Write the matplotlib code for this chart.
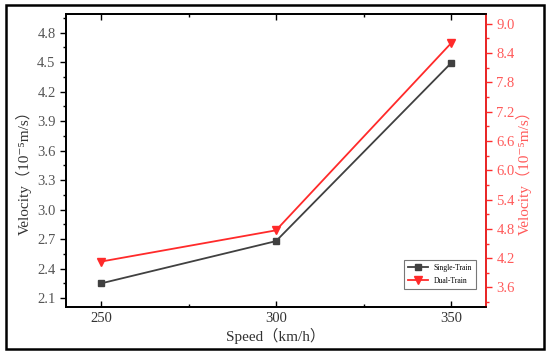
import matplotlib
matplotlib.use('Agg')
import matplotlib.pyplot as plt
from matplotlib.patches import Rectangle
from matplotlib.ticker import MultipleLocator

# 数据
speed = [250, 300, 350]
single_train = [2.25, 2.68, 4.49]
dual_train = [4.13, 4.77, 8.60]

fonts = ['Liberation Serif', 'DejaVu Serif', 'Noto Sans CJK SC']
plt.rcParams['font.family'] = fonts

gray = '#404040'
red = '#ff2a2a'
red_txt = '#ff5a5a'

fig = plt.figure(figsize=(5.5, 3.55), dpi=100)
ax = fig.add_axes([66/550, 1-307/355, 420/550, 293/355])
ax2 = ax.twinx()

l1, = ax.plot(speed, single_train, color=gray, marker='s', markersize=4.5, lw=1.3, label='Single-Train')
l2, = ax2.plot(speed, dual_train, color=red, marker='v', markersize=5.5, lw=1.3, label='Dual-Train')

ax.set_xlim(240, 360)
ax.set_ylim(2.01, 4.99)
ax2.set_ylim(3.2, 9.2)

ax.xaxis.set_major_locator(MultipleLocator(50))
ax.xaxis.set_minor_locator(MultipleLocator(25))
ax.yaxis.set_major_locator(MultipleLocator(0.3))
ax.yaxis.set_minor_locator(MultipleLocator(0.15))
ax2.yaxis.set_major_locator(MultipleLocator(0.6))
ax2.yaxis.set_minor_locator(MultipleLocator(0.3))
ax.yaxis.set_major_formatter(plt.FuncFormatter(lambda v, p: '%.1f' % v))
ax2.yaxis.set_major_formatter(plt.FuncFormatter(lambda v, p: '%.1f' % v))

ax.tick_params(axis='x', which='both', direction='in', top=True, labelsize=10.5, labelcolor='#333333')
ax.tick_params(axis='x', which='major', length=4, width=1)
ax.tick_params(axis='x', which='minor', length=2.5, width=1)
ax.tick_params(axis='y', which='major', direction='out', length=4, width=1, labelsize=10.5, labelcolor='#555555')
ax.tick_params(axis='y', which='minor', direction='out', length=2.5, width=1)
ax2.tick_params(axis='y', which='major', direction='out', length=4, width=1, colors=red, labelsize=10.5, labelcolor=red_txt)
ax2.tick_params(axis='y', which='minor', direction='out', length=2.5, width=1, colors=red)

for s in ax.spines.values():
    s.set_linewidth(1.3)
for s in ax2.spines.values():
    s.set_linewidth(1.3)
ax2.spines['right'].set_color(red)

ax.set_xlabel('Speed（km/h）', fontsize=11, color='#333333', labelpad=2)
ax.set_ylabel('Velocity（10⁻⁵m/s）', fontsize=11, color='#333333')
ax2.set_ylabel('Velocity（10⁻⁵m/s）', fontsize=11, color=red_txt)
ax.yaxis.set_label_coords(-0.082, 0.47)
ax2.yaxis.set_label_coords(1.072, 0.47)

leg = ax.legend([l1, l2], ['Single-Train', 'Dual-Train'], loc='lower right',
                bbox_to_anchor=(0.985, 0.05), fontsize=5.5, frameon=True, fancybox=False,
                edgecolor='#555555', handlelength=2.6, borderpad=0.5, labelspacing=0.6)
leg.get_frame().set_linewidth(0.8)

# 外框
fig.patches.append(Rectangle((6/550, 1-349/355), 538/550, 344/355, transform=fig.transFigure,
                             fill=False, edgecolor='black', lw=1.8))

fig.savefig('out.png', dpi=100)
